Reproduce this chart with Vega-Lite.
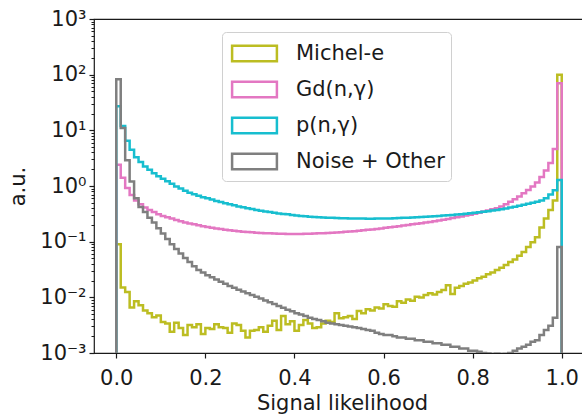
{
  "$schema": "https://vega.github.io/schema/vega-lite/v6.json",
  "width": 490,
  "height": 334,
  "autosize": {"type": "none"},
  "padding": {"left": 94, "top": 19, "right": 0, "bottom": 65},
  "config": {
    "font": "DejaVu Sans",
    "view": {"stroke": "#1a1a1a", "strokeWidth": 1.2},
    "axis": {"labelFont": "DejaVu Sans", "titleFont": "DejaVu Sans", "labelColor": "#1a1a1a", "titleColor": "#1a1a1a", "tickColor": "#1a1a1a", "domain": false, "grid": false, "titleFontWeight": "normal"}
  },
  "data": {
    "values": [
      {"s": "Michel-e",
       "x": [0,0,0.01,0.02,0.03,0.04,0.05,0.06,0.07,0.08,0.09,0.1,0.11,0.12,0.13,0.14,0.15,0.16,0.17,0.18,0.19,0.2,0.21,0.22,0.23,0.24,0.25,0.26,0.27,0.28,0.29,0.3,0.31,0.32,0.33,0.34,0.35,0.36,0.37,0.38,0.39,0.4,0.41,0.42,0.43,0.44,0.45,0.46,0.47,0.48,0.49,0.5,0.51,0.52,0.53,0.54,0.55,0.56,0.57,0.58,0.59,0.6,0.61,0.62,0.63,0.64,0.65,0.66,0.67,0.68,0.69,0.7,0.71,0.72,0.73,0.74,0.75,0.76,0.77,0.78,0.79,0.8,0.81,0.82,0.83,0.84,0.85,0.86,0.87,0.88,0.89,0.9,0.91,0.92,0.93,0.94,0.95,0.96,0.97,0.98,0.99,1,1],
       "y": [0.0001,0.09,0.015,0.0125,0.0066,0.0085,0.0072,0.0058,0.0052,0.0044,0.0047,0.0036,0.0034,0.0024,0.0035,0.0028,0.0021,0.0032,0.0029,0.0033,0.0022,0.0028,0.0027,0.0033,0.0029,0.0028,0.0023,0.0034,0.0032,0.0025,0.0019,0.0025,0.0026,0.0029,0.0024,0.0031,0.0038,0.0026,0.0046,0.0033,0.0037,0.0025,0.0032,0.0039,0.0034,0.0028,0.0029,0.0034,0.0038,0.0036,0.0052,0.0042,0.0044,0.0046,0.0041,0.0057,0.0052,0.0061,0.0058,0.0066,0.0063,0.0075,0.007,0.0068,0.0085,0.008,0.0091,0.0087,0.0102,0.0099,0.011,0.0118,0.0112,0.0125,0.0136,0.0165,0.0115,0.0148,0.016,0.0175,0.0185,0.02,0.022,0.0235,0.026,0.028,0.031,0.034,0.038,0.043,0.048,0.056,0.065,0.08,0.098,0.12,0.18,0.26,0.37,0.55,100,100,0.0001]},
      {"s": "Gd(n,γ)",
       "x": [0,0,0.01,0.02,0.03,0.04,0.05,0.06,0.07,0.08,0.09,0.1,0.11,0.12,0.13,0.14,0.15,0.16,0.17,0.18,0.19,0.2,0.21,0.22,0.23,0.24,0.25,0.26,0.27,0.28,0.29,0.3,0.31,0.32,0.33,0.34,0.35,0.36,0.37,0.38,0.39,0.4,0.41,0.42,0.43,0.44,0.45,0.46,0.47,0.48,0.49,0.5,0.51,0.52,0.53,0.54,0.55,0.56,0.57,0.58,0.59,0.6,0.61,0.62,0.63,0.64,0.65,0.66,0.67,0.68,0.69,0.7,0.71,0.72,0.73,0.74,0.75,0.76,0.77,0.78,0.79,0.8,0.81,0.82,0.83,0.84,0.85,0.86,0.87,0.88,0.89,0.9,0.91,0.92,0.93,0.94,0.95,0.96,0.97,0.98,0.99,1,1],
       "y": [0.0001,2.4,1.4,0.92,0.69,0.55,0.47,0.41,0.37,0.34,0.31,0.29,0.275,0.26,0.245,0.232,0.222,0.213,0.205,0.198,0.19,0.184,0.178,0.173,0.168,0.164,0.16,0.157,0.154,0.151,0.149,0.147,0.145,0.143,0.142,0.141,0.14,0.139,0.139,0.138,0.138,0.138,0.138,0.139,0.139,0.14,0.141,0.142,0.143,0.145,0.146,0.148,0.15,0.152,0.154,0.157,0.16,0.163,0.166,0.169,0.173,0.177,0.181,0.185,0.19,0.195,0.2,0.205,0.21,0.215,0.22,0.225,0.232,0.24,0.248,0.256,0.265,0.274,0.284,0.295,0.306,0.318,0.332,0.347,0.364,0.383,0.4,0.43,0.47,0.52,0.58,0.65,0.74,0.85,0.98,1.15,1.45,1.9,2.6,4.6,70,70,0.0001]},
      {"s": "p(n,γ)",
       "x": [0,0,0.01,0.02,0.03,0.04,0.05,0.06,0.07,0.08,0.09,0.1,0.11,0.12,0.13,0.14,0.15,0.16,0.17,0.18,0.19,0.2,0.21,0.22,0.23,0.24,0.25,0.26,0.27,0.28,0.29,0.3,0.31,0.32,0.33,0.34,0.35,0.36,0.37,0.38,0.39,0.4,0.41,0.42,0.43,0.44,0.45,0.46,0.47,0.48,0.49,0.5,0.51,0.52,0.53,0.54,0.55,0.56,0.57,0.58,0.59,0.6,0.61,0.62,0.63,0.64,0.65,0.66,0.67,0.68,0.69,0.7,0.71,0.72,0.73,0.74,0.75,0.76,0.77,0.78,0.79,0.8,0.81,0.82,0.83,0.84,0.85,0.86,0.87,0.88,0.89,0.9,0.91,0.92,0.93,0.94,0.95,0.96,0.97,0.98,0.99,1,1],
       "y": [0.0001,27,12,6.5,4.5,3.3,2.7,2.25,1.95,1.7,1.5,1.35,1.22,1.1,0.98,0.9,0.82,0.76,0.71,0.67,0.63,0.6,0.57,0.54,0.515,0.49,0.47,0.45,0.43,0.415,0.4,0.385,0.37,0.36,0.35,0.34,0.33,0.32,0.315,0.31,0.3,0.295,0.29,0.285,0.28,0.278,0.275,0.272,0.27,0.268,0.266,0.264,0.263,0.262,0.261,0.26,0.26,0.259,0.259,0.26,0.26,0.261,0.262,0.264,0.266,0.268,0.27,0.272,0.275,0.278,0.281,0.284,0.287,0.29,0.294,0.298,0.302,0.307,0.312,0.318,0.324,0.33,0.337,0.345,0.353,0.362,0.372,0.383,0.395,0.41,0.425,0.44,0.46,0.48,0.5,0.52,0.55,0.6,0.7,0.84,1.28,1.28,0.0001]},
      {"s": "Noise + Other",
       "x": [0,0,0.01,0.02,0.03,0.04,0.05,0.06,0.07,0.08,0.09,0.1,0.11,0.12,0.13,0.14,0.15,0.16,0.17,0.18,0.19,0.2,0.21,0.22,0.23,0.24,0.25,0.26,0.27,0.28,0.29,0.3,0.31,0.32,0.33,0.34,0.35,0.36,0.37,0.38,0.39,0.4,0.41,0.42,0.43,0.44,0.45,0.46,0.47,0.48,0.49,0.5,0.51,0.52,0.53,0.54,0.55,0.56,0.57,0.58,0.59,0.6,0.61,0.62,0.63,0.64,0.65,0.66,0.67,0.68,0.69,0.7,0.71,0.72,0.73,0.74,0.75,0.76,0.77,0.78,0.79,0.8,0.81,0.82,0.83,0.84,0.85,0.86,0.87,0.88,0.89,0.9,0.91,0.92,0.93,0.94,0.95,0.96,0.97,0.98,0.99,1,1],
       "y": [0.0001,83,11,2.9,1.2,0.6,0.42,0.34,0.27,0.22,0.175,0.14,0.112,0.09,0.074,0.061,0.051,0.043,0.036,0.031,0.028,0.025,0.023,0.021,0.019,0.0175,0.016,0.0148,0.0137,0.0127,0.0118,0.011,0.0102,0.0095,0.0088,0.0082,0.0076,0.007,0.0065,0.006,0.0056,0.0052,0.0049,0.0046,0.0043,0.0041,0.0039,0.0037,0.0035,0.0034,0.0033,0.0032,0.0031,0.003,0.0029,0.0028,0.0027,0.0026,0.0025,0.0023,0.0022,0.0021,0.0021,0.002,0.0019,0.0019,0.0018,0.0018,0.0017,0.0017,0.0016,0.0016,0.0015,0.0015,0.0014,0.0014,0.0013,0.0013,0.0012,0.0012,0.0011,0.0011,0.00105,0.001,0.00098,0.00095,0.00097,0.00093,0.00096,0.001,0.0011,0.0012,0.0013,0.0014,0.0016,0.0017,0.0021,0.0026,0.0031,0.0043,0.08,0.08,0.0001]}
    ]
  },
  "transform": [{"flatten": ["x", "y"]}],
  "layer": [
    {
      "mark": {"type": "line", "interpolate": "step-after", "strokeWidth": 2.5, "clip": true},
      "encoding": {
        "x": {"field": "x", "type": "quantitative",
              "scale": {"domain": [-0.05, 1.05], "nice": false, "zero": false},
              "axis": {"values": [0, 0.2, 0.4, 0.6, 0.8, 1], "format": ".1f", "title": "Signal likelihood",
                       "labelFontSize": 21, "titleFontSize": 21, "tickSize": 5, "tickWidth": 1.2,
                       "labelBaseline": "alphabetic", "labelPadding": 26,
                       "titleX": 248, "titleY": 56, "titleBaseline": "alphabetic", "titleAnchor": null}},
        "y": {"field": "y", "type": "quantitative",
              "scale": {"type": "log", "domain": [0.001, 1000], "nice": false},
              "axis": {"values": [0.001, 0.01, 0.1, 1, 10, 100, 1000],
                       "labelExpr": "datum.value == 0.001 ? '10⁻³' : datum.value == 0.01 ? '10⁻²' : datum.value == 0.1 ? '10⁻¹' : datum.value == 1 ? '10⁰' : datum.value == 10 ? '10¹' : datum.value == 100 ? '10²' : '10³'",
                       "title": "a.u.", "labelFontSize": 21, "titleFontSize": 21, "tickSize": 5, "tickWidth": 1.2,
                       "labelPadding": 3, "labelBaseline": "middle",
                       "titleX": -76, "titleY": 167, "titleAngle": -90, "titleAlign": "center", "titleBaseline": "middle"}},
        "color": {"field": "s", "type": "nominal",
                  "scale": {"domain": ["Michel-e", "Gd(n,γ)", "p(n,γ)", "Noise + Other"],
                            "range": ["#bcbd22", "#e377c2", "#17becf", "#7f7f7f"]},
                  "legend": {"title": null, "orient": "none", "legendX": 128, "legendY": 13,
                             "symbolType": "M-1.6,-0.55H1.6V0.55H-1.6Z", "symbolSize": 784,
                             "symbolStrokeWidth": 2.5, "symbolFillColor": "transparent",
                             "symbolOffset": 11, "labelOffset": 26, "labelFontSize": 21,
                             "labelFont": "DejaVu Sans", "labelColor": "#1a1a1a", "rowPadding": 7,
                             "padding": 6, "strokeColor": "#d0d0d0", "fillColor": "rgba(255,255,255,0.8)",
                             "cornerRadius": 4, "labelLimit": 300}},
        "order": {"value": null}
      }
    },
    {
      "mark": {"type": "line", "strokeOpacity": 0, "clip": true},
      "encoding": {
        "x": {"field": "x", "type": "quantitative"},
        "y": {"field": "y", "type": "quantitative",
              "axis": {"orient": "left", "labels": false, "title": null, "tickSize": 3, "tickWidth": 1,
                       "values": [0.002,0.003,0.004,0.005,0.006,0.007,0.008,0.009,0.02,0.03,0.04,0.05,0.06,0.07,0.08,0.09,0.2,0.3,0.4,0.5,0.6,0.7,0.8,0.9,2,3,4,5,6,7,8,9,20,30,40,50,60,70,80,90,200,300,400,500,600,700,800,900]}},
        "order": {"value": null}
      }
    }
  ],
  "resolve": {"axis": {"y": "independent"}}
}
